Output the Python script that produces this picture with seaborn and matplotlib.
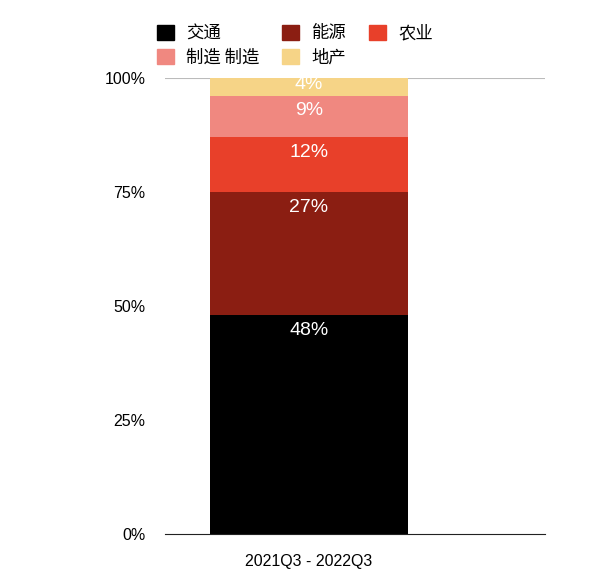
import matplotlib
matplotlib.use("Agg")
import matplotlib.pyplot as plt
import seaborn as sns
from matplotlib.patches import Patch

plt.rcParams["font.family"] = ["Liberation Sans", "Noto Sans CJK SC"]

# data
categories = ["交通", "能源", "农业", "制造 制造", "地产"]
values = [48, 27, 12, 9, 4]
colors = ["#000000", "#8B1E12", "#E8402A", "#F08880", "#F6D487"]
period = ["2021Q3 - 2022Q3"]

fig = plt.figure(figsize=(6, 5.78), dpi=100)
ax = fig.add_axes([0.275, 0.076, 0.633, 0.789])

bottom = 0
for cat, val, col in zip(categories, values, colors):
    sns.barplot(x=period, y=[val], color=col, bottom=bottom, width=0.8,
                saturation=1, ax=ax)
    top = bottom + val
    ax.text(0, top - min(3.3, val * 0.35), f"{val}%", ha="center", va="center",
            color="white", fontsize=14)
    bottom = top

ax.set_xlim(-0.582, 0.953)
ax.set_ylim(0, 100)
ax.set_yticks([0, 25, 50, 75, 100])
ax.set_yticklabels(["0%", "25%", "50%", "75%", "100%"])
ax.tick_params(length=0, labelsize=11.5, pad=14)
ax.axhline(100, color="#bbbbbb", lw=0.8, zorder=0)
for s in ["top", "right", "left"]:
    ax.spines[s].set_visible(False)
ax.spines["bottom"].set_color("#222222")

# matplotlib fills legend column-wise; reorder so rows read in category order
order = [0, 3, 1, 4, 2]
handles = [Patch(color=colors[i]) for i in order]
labels = [categories[i] for i in order]
fig.legend(handles, labels, loc="upper left", bbox_to_anchor=(0.235, 0.985),
           ncol=3, frameon=False, handlelength=1.0, handleheight=1.0,
           columnspacing=1.3, labelspacing=0.35, handletextpad=0.7,
           prop={"family": "Noto Sans CJK SC", "size": 12.5})

fig.savefig("out.png", dpi=100)
